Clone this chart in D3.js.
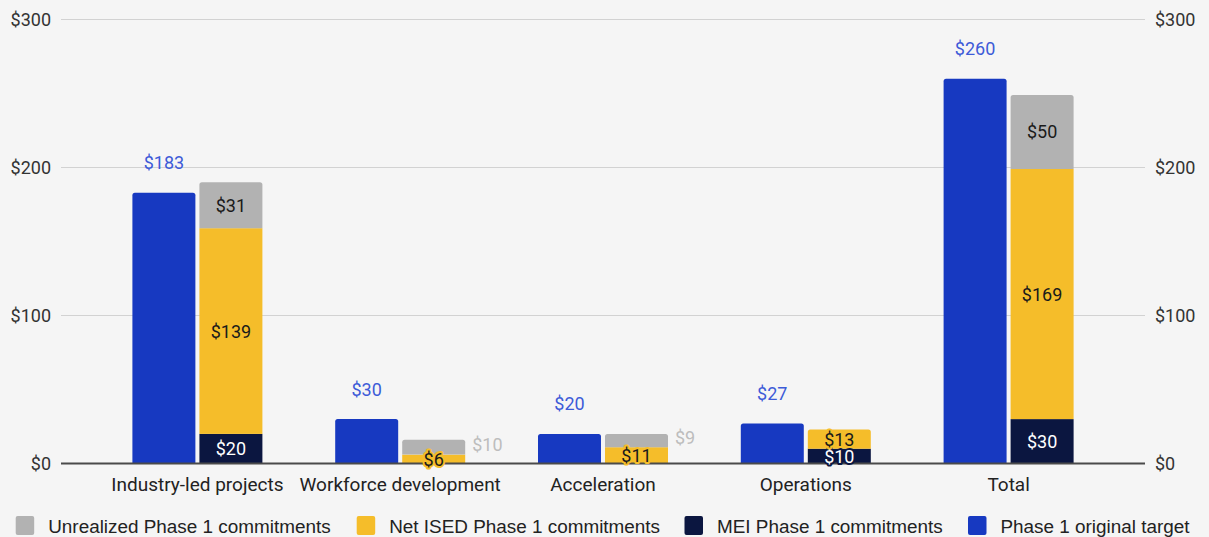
<!DOCTYPE html>
<html><head><meta charset="utf-8">
<script src="https://cdn.jsdelivr.net/npm/d3@7"></script>
<style>
html,body{margin:0;padding:0;background:#f5f5f5;}
svg{display:block;font-family:Roboto, "Liberation Sans", sans-serif;}
</style>
</head><body>
<svg id="c" width="1209" height="537"></svg>
<script>
const categories = ["Industry-led projects","Workforce development","Acceleration","Operations","Total"];
const targetValues = [183,30,20,27,260];
const meiValues = [20,0,0,10,30];
const netIsedValues = [139,6,11,13,169];
const unrealizedValues = [31,10,9,0,50];
const yTickValues = [0,100,200,300];
const legendLabels = ["Unrealized Phase 1 commitments","Net ISED Phase 1 commitments","MEI Phase 1 commitments","Phase 1 original target"];

const C = {target:"#1739c1", mei:"#0b1640", ised:"#f5bd2a", unr:"#b2b2b2", targetLabel:"#3d5bd8"};

const svg = d3.select("#c");
svg.append("rect").attr("width",1209).attr("height",537).attr("fill","#f5f5f5");

const y = d3.scaleLinear().domain([0,300]).range([463.5,19.5]);
const x = d3.scaleBand().domain(categories).range([96,1110]);
const sub = d3.scaleBand().domain(["target","stack"]).range([-65,65]).paddingInner(0.06);
const cx = c => x(c) + x.bandwidth()/2;

// gridlines
svg.append("g").selectAll("line").data(yTickValues.filter(d=>d>0)).join("line")
  .attr("x1",61).attr("x2",1145).attr("y1",d=>y(d)).attr("y2",d=>y(d))
  .attr("stroke","#d2d2d2").attr("stroke-width",1.2);

// axes labels
const fmt = d => "$" + d;
const la = svg.append("g").attr("transform","translate(61,0)")
  .call(d3.axisLeft(y).tickValues(yTickValues).tickFormat(fmt).tickSize(0).tickPadding(10));
const ra = svg.append("g").attr("transform","translate(1145,0)")
  .call(d3.axisRight(y).tickValues(yTickValues).tickFormat(fmt).tickSize(0).tickPadding(10));
[la,ra].forEach(g=>{
  g.select(".domain").remove();
  g.selectAll("text").attr("font-family","Roboto").attr("font-size",18).attr("fill","#333");
});

function topRounded(x0,y0,w,h,r){
  r=Math.min(r,h/2,w/2);
  return `M${x0},${y0+h}V${y0+r}Q${x0},${y0} ${x0+r},${y0}H${x0+w-r}Q${x0+w},${y0} ${x0+w},${y0+r}V${y0+h}Z`;
}

const bw = sub.bandwidth();
// target bars
const tg = svg.append("g");
categories.forEach((c,i)=>{
  const x0 = cx(c)+sub("target");
  tg.append("path").attr("d",topRounded(x0,y(targetValues[i]),bw,y(0)-y(targetValues[i]),2.5)).attr("fill",C.target);
});

// stacked bars
const stackKeys = [
  {key:"mei", vals:meiValues, color:C.mei, text:"#ffffff"},
  {key:"ised", vals:netIsedValues, color:C.ised, text:"#1a1a1a"},
  {key:"unr", vals:unrealizedValues, color:C.unr, text:"#1a1a1a"}
];
const sg = svg.append("g");
const labels = [];
categories.forEach((c,i)=>{
  const x0 = cx(c)+sub("stack");
  let base = 0;
  const nonzero = stackKeys.filter(s=>s.vals[i]>0);
  const topKey = nonzero[nonzero.length-1].key;
  stackKeys.forEach(s=>{
    const v = s.vals[i];
    if(v<=0) return;
    const yt = y(base+v), yb = y(base);
    if(s.key===topKey) sg.append("path").attr("d",topRounded(x0,yt,bw,yb-yt,2.5)).attr("fill",s.color);
    else sg.append("rect").attr("x",x0).attr("y",yt).attr("width",bw).attr("height",yb-yt).attr("fill",s.color);
    const h = yb-yt;
    if(s.key==="unr" && h<18){
      labels.push({x:x0+bw+7, y:(yt+yb)/2-3, t:"$"+v, fill:"#bdbdbd", anchor:"start", halo:null});
    } else {
      labels.push({x:x0+bw/2, y:(yt+yb)/2, t:"$"+v, fill:s.text, anchor:"middle", halo:s.color});
    }
    base += v;
  });
});

// axis zero line
svg.append("line").attr("x1",61).attr("x2",1145).attr("y1",y(0)).attr("y2",y(0))
  .attr("stroke","#4a4a4a").attr("stroke-width",2);

// segment labels
const lg = svg.append("g").attr("font-family","Roboto").attr("font-size",18);
labels.forEach(l=>{
  const t = lg.append("text").attr("x",l.x).attr("y",l.y).attr("dy","0.36em")
    .attr("text-anchor",l.anchor).attr("fill",l.fill).text(l.t);
  if(l.halo) t.attr("stroke",l.halo).attr("stroke-width",4).attr("stroke-linejoin","round").attr("paint-order","stroke");
});

// target labels
categories.forEach((c,i)=>{
  lg.append("text").attr("x",cx(c)+sub("target")+bw/2).attr("y",y(targetValues[i])-30).attr("dy","0.36em")
    .attr("text-anchor","middle").attr("fill",C.targetLabel).text("$"+targetValues[i]);
});

// category labels
svg.append("g").selectAll("text").data(categories).join("text")
  .attr("x",d=>cx(d)).attr("y",491).attr("text-anchor","middle")
  .attr("font-family","Roboto").attr("font-size",19).attr("fill","#222").text(d=>d);

// legend
const legendColors = [C.unr, C.ised, C.mei, C.target];
const legendX = [15.7, 356.7, 684.5, 968];
const leg = svg.append("g");
legendLabels.forEach((l,i)=>{
  leg.append("rect").attr("x",legendX[i]).attr("y",516).attr("width",18.5).attr("height",19).attr("rx",2).attr("fill",legendColors[i]);
  leg.append("text").attr("x",legendX[i]+32.5).attr("y",526).attr("dy","0.35em")
    .attr("font-family","'Liberation Sans', Arial, sans-serif").attr("font-size",18.9).attr("fill","#222").text(l);
});
</script>
</body></html>
